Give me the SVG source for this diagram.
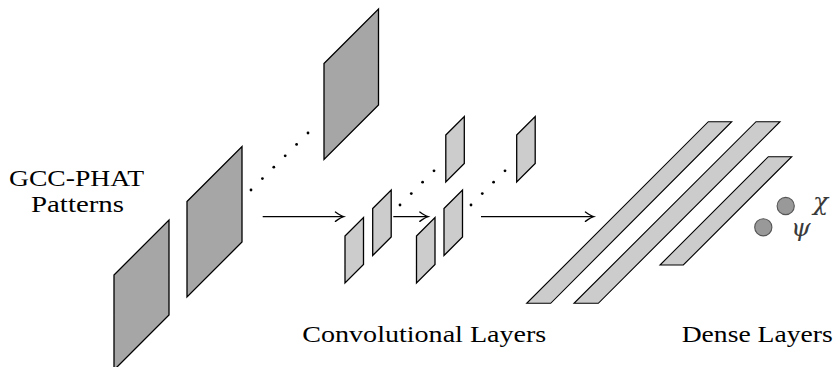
<svg xmlns="http://www.w3.org/2000/svg" width="835" height="367" viewBox="0 0 835 367">
  <style>
    .big { fill: #a6a6a6; stroke: #000; stroke-width: 1.3; stroke-linejoin: miter; }
    .small { fill: #cccccc; stroke: #000; stroke-width: 1.3; }
    .dense { fill: #cccccc; stroke: #000; stroke-width: 1.1; }
    .dot { fill: #000; }
    .out { fill: #999999; stroke: #555555; stroke-width: 1.1; }
    .lbl { font-family: "Liberation Serif", "DejaVu Serif", serif; font-size: 23px; fill: #000; }
    .sym { font-family: "DejaVu Serif", "Liberation Serif", serif; font-style: italic; font-size: 25px; fill: #3a3a3a; }
    .conn { stroke: #000; stroke-width: 1.2; fill: none; }
  </style>
  <defs>
    <marker id="arrowTo" markerUnits="userSpaceOnUse" markerWidth="14" markerHeight="14" viewBox="-8 -6 10 12" refX="0" refY="0" orient="auto" overflow="visible">
      <path d="M -6.5,-4 Q -2,-0.8 0.6,0 Q -2,0.8 -6.5,4" fill="none" stroke="#000" stroke-width="1.2" stroke-linecap="round"/>
    </marker>
  </defs>

  <!-- input feature maps -->
  <g id="gcc-map-1"><polygon class="big" points="114,275 169,220 169,315 114,370"/></g>
  <g id="gcc-map-2"><polygon class="big" points="187,201.5 242,146.5 242,242 187,297"/></g>
  <g id="gcc-map-n"><polygon class="big" points="324,63.5 378.5,9 378.5,105 324,159.5"/></g>
  <g id="gcc-dots">
    <circle class="dot" cx="251" cy="190" r="1.4"/>
    <circle class="dot" cx="262.4" cy="178.6" r="1.4"/>
    <circle class="dot" cx="273.8" cy="167.2" r="1.4"/>
    <circle class="dot" cx="285.2" cy="155.8" r="1.4"/>
    <circle class="dot" cx="296.6" cy="144.4" r="1.4"/>
    <circle class="dot" cx="308" cy="133" r="1.4"/>
  </g>

  <!-- convolutional layers -->
  <g id="conv-1a"><polygon class="small" points="345,236 363.5,217.5 363.5,264.5 345,283"/></g>
  <g id="conv-1b"><polygon class="small" points="372.7,208.5 391.2,190 391.2,237 372.7,255.5"/></g>
  <g id="conv-2a"><polygon class="small" points="416.5,236 435,217.5 435,264.5 416.5,283"/></g>
  <g id="conv-2b"><polygon class="small" points="444,208.5 462.5,190 462.5,237 444,255.5"/></g>
  <g id="conv-1n"><polygon class="small" points="445.8,135 464.3,116.5 464.3,163.5 445.8,182"/></g>
  <g id="conv-2n"><polygon class="small" points="516.7,135 535.2,116.5 535.2,163.5 516.7,182"/></g>
  <g id="conv-dots">
    <circle class="dot" cx="400" cy="205" r="1.4"/>
    <circle class="dot" cx="411.3" cy="193.6" r="1.4"/>
    <circle class="dot" cx="422.6" cy="182.2" r="1.4"/>
    <circle class="dot" cx="434" cy="170.8" r="1.4"/>
    <circle class="dot" cx="471" cy="205" r="1.4"/>
    <circle class="dot" cx="482.3" cy="193.6" r="1.4"/>
    <circle class="dot" cx="493.6" cy="182.2" r="1.4"/>
    <circle class="dot" cx="505" cy="170.8" r="1.4"/>
  </g>

  <!-- dense layers -->
  <g id="dense-1"><polygon class="dense" points="526.7,303.3 550.7,303.3 731.7,121.7 708.3,121.7"/></g>
  <g id="dense-2"><polygon class="dense" points="574,303.3 598.3,303.3 780,121.7 756,121.7"/></g>
  <g id="dense-3"><polygon class="dense" points="660,265 683.3,265 791.7,156.7 768.3,156.7"/></g>

  <!-- outputs -->
  <g id="out-chi">
    <circle class="out" cx="785.7" cy="206" r="8.6"/>
    <text class="sym" x="813" y="210">χ</text>
  </g>
  <g id="out-psi">
    <circle class="out" cx="763.3" cy="227.3" r="8.6"/>
    <text class="sym" x="791" y="236">ψ</text>
  </g>

  <!-- connectors -->
  <g id="connectors">
    <line class="conn" x1="262.7" y1="216.7" x2="343" y2="216.7" marker-end="url(#arrowTo)"/>
    <line class="conn" x1="393.3" y1="216.7" x2="427.4" y2="216.7" marker-end="url(#arrowTo)"/>
    <line class="conn" x1="481" y1="216.7" x2="593" y2="216.7" marker-end="url(#arrowTo)"/>
  </g>

  <!-- labels -->
  <g id="labels">
    <text class="lbl" x="9" y="186" textLength="135" lengthAdjust="spacingAndGlyphs">GCC-PHAT</text>
    <text class="lbl" x="31" y="211.5" textLength="93" lengthAdjust="spacingAndGlyphs">Patterns</text>
    <text class="lbl" x="302.3" y="342" textLength="244" lengthAdjust="spacingAndGlyphs">Convolutional Layers</text>
    <text class="lbl" x="681.7" y="342" textLength="151" lengthAdjust="spacingAndGlyphs">Dense Layers</text>
  </g>
</svg>
